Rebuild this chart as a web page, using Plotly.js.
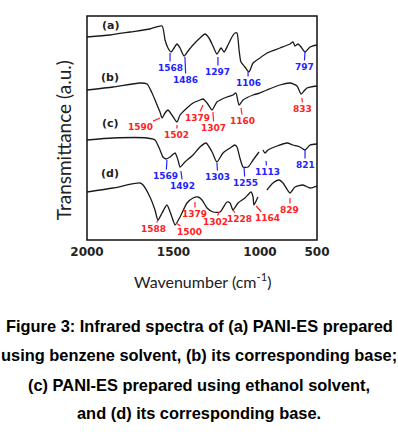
<!DOCTYPE html>
<html><head><meta charset="utf-8">
<script src="https://cdn.plot.ly/plotly-3.0.1.min.js"></script>
<style>body{margin:0;background:#fff}#chart{width:398px;height:445px}</style>
</head><body><div id="chart"></div>
<script>
// Spectrum (a): PANI-ES, benzene
const wnA = [2000,1867,1751,1636,1566,1549,1532,1514,1497,1480,1462,1439,1416,1387,1347,1318,1295,1272,1249,1225,1208,1185,1162,1145,1133,1121,1110,1087,1064,1040,1000,939,825,737,711,693,667,640,605,561,500];
const tA  = [203,205,208,211,214,200,192,188,192,196,192,184,189,195,202,206,202,194,186,192,188,195,203,207,207,190,178,173,168,177,182,187,192,196,198,194,196,193,188,193,195];
// Spectrum (b): base of (a)
const wnB = [2000,1850,1694,1653,1624,1595,1578,1566,1549,1532,1509,1480,1462,1422,1387,1347,1329,1306,1277,1249,1191,1156,1139,1121,1098,1040,1000,939,825,737,675,640,614,588,500];
const tB  = [150,153,157,156,147,135,128,122,127,130,125,118,125,132,137,140,141,137,130,138,143,145,147,135,140,145,147,150,155,157,154,146,149,152,154];
// Spectrum (c): PANI-ES, ethanol
const wnC = [2000,1850,1653,1607,1578,1561,1543,1520,1491,1474,1462,1434,1387,1347,1312,1277,1249,1214,1173,1145,1133,1116,1098,1069,1040,1006,974,956,930,851,763,711,649,605,561,500];
const tC  = [100,102,102,100,90,83,81,83,87,80,73,78,85,93,97,88,78,87,92,95,93,82,73,73,80,88,90,87,90,94,97,95,93,90,95,96];
// Spectrum (d): base of (c)
const wnD = [2000,1850,1694,1676,1636,1607,1590,1566,1538,1509,1491,1462,1422,1387,1358,1335,1306,1272,1231,1191,1173,1156,1127,1087,1052,1040,1035,1012,939,886,833,798,737,693,623,561,500];
const tD  = [48,52,57,55,43,30,20,27,35,23,15,23,37,42,43,40,32,28,28,38,37,30,37,42,48,43,35,43,50,57,60,57,47,53,55,52,54];

// Peak labels
const peakTextA = ['1568','1486','1297','1106','797'];
const peakXA = [1520,1434,1243,1069,605];
const peakYA = [187,183,183,168,188];
const peakTextB = ['1590','1502','1379','1307','1160','833'];
const peakXB = [1578,1480,1329,1272,1110,632];
const peakYB = [122,115,135,128,132,142];
const peakTextC = ['1569','1492','1303','1255','1113','821'];
const peakXC = [1538,1457,1249,1092,947,605];
const peakYC = [80,69,77,72,79,90];
const peakTextD = ['1588','1500','1379','1302','1228','1164','829'];
const peakXD = [1590,1486,1376,1237,1156,1023,737];
const peakYD = [20,17,38,28,30,34,42];

const curveNames = ['(a)','(b)','(c)','(d)'];
const curveNameY = [215,163,117,67];
const xTickVals = [2000,1500,1000,500];
const xTickText = ['2000','1500','1000','500'];
const captionLines = [
  'Figure 3: Infrared spectra of (a) PANI-ES prepared',
  'using benzene solvent, (b) its corresponding base;',
  '(c) PANI-ES prepared using ethanol solvent,',
  'and (d) its corresponding base.'
];

// label offsets (pixels) — layout only
const offA = [[0,15],[1,23],[0,15],[0,11],[-1,15]];
const offB = [[-20,9],[0,10],[-6,13],[1,16],[2,13],[1,11]];
const offC = [[-1,16],[2,15],[1,14],[1,15],[1,11],[0,15]];
const offD = [[-4,9],[14,9],[0,12],[-4,10],[6,9],[11,12],[0,12]];

const BLUE = '#2323ff', RED = '#ff2222';
const BREAK = 1000;

function splitTraces(xs, ys){
  const lx=[],ly=[],rx=[],ry=[];
  xs.forEach((x,i)=>{ if(x>=BREAK){lx.push(x);ly.push(ys[i]);} if(x<=BREAK){rx.push(x);ry.push(ys[i]);} });
  const base = {mode:'lines', line:{color:'#1a1a1a', width:1.3, shape:'spline', smoothing:0.6}, hoverinfo:'skip', showlegend:false};
  return [Object.assign({x:lx,y:ly,xaxis:'x',yaxis:'y'},base), Object.assign({x:rx,y:ry,xaxis:'x2',yaxis:'y'},base)];
}
let data = [];
[[wnA,tA],[wnB,tB],[wnC,tC],[wnD,tD]].forEach(s=>{ data = data.concat(splitTraces(s[0],s[1])); });

const annotations = [];
function addPeaks(texts, xs, ys, offs, color){
  texts.forEach((t,i)=>{
    annotations.push({x:xs[i], y:ys[i], xref: xs[i]>=BREAK?'x':'x2', yref:'y', text:t,
      showarrow:true, arrowhead:0, arrowwidth:1.2, arrowcolor:color, ax:offs[i][0], ay:offs[i][1],
      startstandoff:1, borderpad:0,
      font:{family:'DejaVu Sans', size:9, color:color, weight:'bold'}});
  });
}
addPeaks(peakTextA, peakXA, peakYA, offA, BLUE);
addPeaks(peakTextB, peakXB, peakYB, offB, RED);
addPeaks(peakTextC, peakXC, peakYC, offC, BLUE);
addPeaks(peakTextD, peakXD, peakYD, offD, RED);

curveNames.forEach((n,i)=>{
  annotations.push({x:1867, y:curveNameY[i], xref:'x', yref:'y', text:n, showarrow:false,
    font:{family:'DejaVu Sans', size:11, color:'#222', weight:'bold'}});
});

annotations.push({x:0.5, y:-0.18, xref:'paper', yref:'paper', xanchor:'center', yanchor:'middle', text:'Wavenumber (cm<sup>-1</sup>)',
  showarrow:false, font:{family:'Lato', size:16, color:'#222'}});
annotations.push({x:-0.104, y:0.446, xref:'paper', yref:'paper', xanchor:'center', yanchor:'middle', textangle:-90, text:'Transmittance (a.u.)',
  showarrow:false, font:{family:'Lato', size:19, color:'#222'}});
const capY = [86,115,145,173];
captionLines.forEach((c,i)=>{
  annotations.push({x:0.487, y:0, xref:'paper', yref:'paper', yanchor:'middle', yshift:-capY[i], text:c,
    showarrow:false, font:{family:'Liberation Sans', size:16.4, color:'#000', weight:'bold'}});
});

const tickFont = {family:'DejaVu Sans', size:12, color:'#222', weight:'bold'};
const layout = {
  width:398, height:445, margin:{l:87, r:81, t:16, b:205},
  paper_bgcolor:'#fff', plot_bgcolor:'#fff',
  xaxis:{domain:[0, 173/230], range:[2000, BREAK], tickvals:xTickVals.filter(v=>v>=BREAK), ticktext:xTickText.filter((t,i)=>xTickVals[i]>=BREAK),
    ticks:'', ticklabelstandoff:3, showgrid:false, zeroline:false, showline:false, tickfont:tickFont, anchor:'y'},
  xaxis2:{domain:[173/230, 1], range:[BREAK, 500], tickvals:xTickVals.filter(v=>v<BREAK), ticktext:xTickText.filter((t,i)=>xTickVals[i]<BREAK),
    ticks:'', ticklabelstandoff:3, showgrid:false, zeroline:false, showline:false, tickfont:tickFont, anchor:'y'},
  yaxis:{range:[0,224], showticklabels:false, ticks:'', showgrid:false, zeroline:false, showline:false, anchor:'x'},
  shapes:[{type:'rect', xref:'paper', yref:'paper', x0:0, x1:1, y0:0, y1:1, line:{color:'#111', width:1.5}}],
  annotations: annotations
};
Plotly.newPlot('chart', data, layout, {displayModeBar:false, staticPlot:true});
</script></body></html>
